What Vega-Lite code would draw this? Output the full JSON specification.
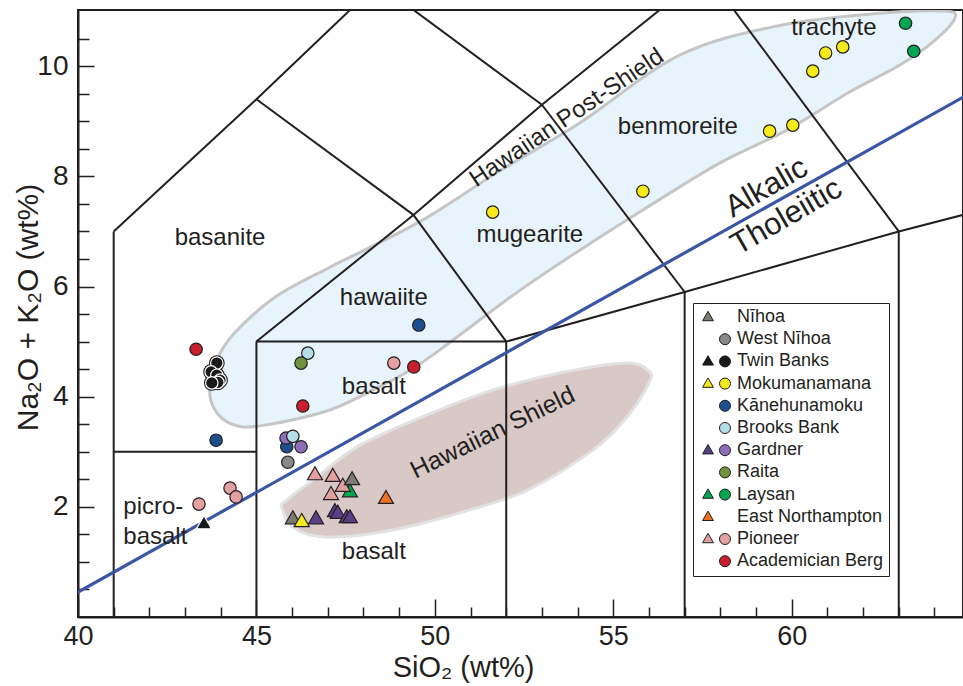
{
"$schema": "https://vega.github.io/schema/vega-lite/v6.json",
"width": 885, "height": 607,
"autosize": {"type": "none"},
"padding": {"left": 78, "top": 10, "right": 0, "bottom": 69},
"background": "white",
"config": {"view": {"stroke": "#231f20", "strokeWidth": 2}, "font": "Liberation Sans"},
"datasets": {
"postShield": [
{"i":1,"x":43.70,"y":4.21},{"i":2,"x":44.00,"y":4.81},{"i":3,"x":44.54,"y":5.26},{"i":4,"x":45.60,"y":5.84},{"i":5,"x":47.06,"y":6.35},{"i":6,"x":48.21,"y":6.72},{"i":7,"x":49.80,"y":7.26},{"i":8,"x":51.82,"y":8.10},{"i":9,"x":54.06,"y":8.97},{"i":10,"x":56.86,"y":10.20},{"i":11,"x":59.66,"y":10.74},{"i":12,"x":62.46,"y":10.96},{"i":13,"x":64.29,"y":11.00},{"i":14,"x":64.57,"y":10.87},{"i":15,"x":64.01,"y":10.47},{"i":16,"x":63.03,"y":10.02},{"i":17,"x":61.62,"y":9.53},{"i":18,"x":59.86,"y":8.84},{"i":19,"x":57.98,"y":8.24},{"i":20,"x":55.83,"y":7.39},{"i":21,"x":54.06,"y":6.66},{"i":22,"x":52.38,"y":5.93},{"i":23,"x":50.14,"y":4.85},{"i":24,"x":49.30,"y":4.48},{"i":25,"x":48.38,"y":4.16},{"i":26,"x":46.97,"y":3.74},{"i":27,"x":45.10,"y":3.47},{"i":28,"x":44.31,"y":3.50},{"i":29,"x":43.81,"y":3.79}
],
"shield": [
{"i":1,"x":45.71,"y":2.00},{"i":2,"x":45.85,"y":2.12},{"i":3,"x":46.22,"y":2.31},{"i":4,"x":46.69,"y":2.54},{"i":5,"x":47.90,"y":3.12},{"i":6,"x":49.78,"y":3.67},{"i":7,"x":51.62,"y":4.12},{"i":8,"x":53.50,"y":4.43},{"i":9,"x":55.38,"y":4.61},{"i":10,"x":56.02,"y":4.45},{"i":11,"x":55.97,"y":4.21},{"i":12,"x":55.38,"y":3.63},{"i":13,"x":54.43,"y":3.03},{"i":14,"x":52.58,"y":2.30},{"i":15,"x":50.70,"y":1.89},{"i":16,"x":48.82,"y":1.58},{"i":17,"x":46.97,"y":1.45},{"i":18,"x":46.02,"y":1.63}
],
"bounds": [
{"x":41,"y":0,"x2":41,"y2":7},{"x":41,"y":7,"x2":45,"y2":9.4},{"x":45,"y":9.4,"x2":48.4,"y2":11.5},{"x":45,"y":9.4,"x2":49.4,"y2":7.3},{"x":49.4,"y":7.3,"x2":52,"y2":5},{"x":45,"y":5,"x2":49.4,"y2":7.3},{"x":49.4,"y":7.3,"x2":53,"y2":9.3},{"x":53,"y":9.3,"x2":57.6,"y2":11.7},{"x":48.4,"y":11.5,"x2":53,"y2":9.3},{"x":53,"y":9.3,"x2":57,"y2":5.9},{"x":57.6,"y":11.7,"x2":63,"y2":7},{"x":41,"y":3,"x2":45,"y2":3},{"x":45,"y":0,"x2":45,"y2":5},{"x":45,"y":5,"x2":52,"y2":5},{"x":52,"y":0,"x2":52,"y2":5},{"x":52,"y":5,"x2":57,"y2":5.9},{"x":57,"y":0,"x2":57,"y2":5.9},{"x":57,"y":5.9,"x2":63,"y2":7},{"x":63,"y":0,"x2":63,"y2":7},{"x":63,"y":7,"x2":69,"y2":8}
],
"divider": [{"x":39.5,"y":0.27,"x2":65.5,"y2":9.69}],
"fieldLabels": [
{"x":61.18,"y":10.69,"label":"trachyte"},{"x":56.81,"y":8.89,"label":"benmoreite"},{"x":52.66,"y":6.93,"label":"mugearite"},{"x":43.98,"y":6.88,"label":"basanite"},{"x":48.57,"y":5.79,"label":"hawaiite"},{"x":48.29,"y":4.17,"label":"basalt"},{"x":48.29,"y":1.18,"label":"basalt"}
],
"picro": [{"x":41.27,"y":2.0,"label":"picro-\nbasalt"}],
"postLabel": [{"x":53.70,"y":9.06,"label":"Hawaiian Post-Shield"}],
"shieldLabel": [{"x":51.62,"y":3.35,"label":"Hawaiian Shield"}],
"seriesLabels": [{"x":59.30,"y":7.79,"label":"Alkalic"},{"x":59.86,"y":7.26,"label":"Tholeiitic"}],
"points": [
{"series":"Laysan","marker":"triangle","x":47.62,"y":2.30},
{"series":"Pioneer","marker":"triangle","x":46.64,"y":2.61},
{"series":"Pioneer","marker":"triangle","x":47.14,"y":2.58},
{"series":"Pioneer","marker":"triangle","x":47.42,"y":2.40},
{"series":"Pioneer","marker":"triangle","x":47.09,"y":2.25},
{"series":"Nīhoa","marker":"triangle","x":47.68,"y":2.52},
{"series":"Nīhoa","marker":"triangle","x":46.02,"y":1.81},
{"series":"Mokumanamana","marker":"triangle","x":46.27,"y":1.76},
{"series":"East Northampton","marker":"triangle","x":48.63,"y":2.18},
{"series":"Gardner","marker":"triangle","x":46.67,"y":1.81},
{"series":"Gardner","marker":"triangle","x":47.20,"y":1.94},
{"series":"Gardner","marker":"triangle","x":47.28,"y":1.91},
{"series":"Gardner","marker":"triangle","x":47.53,"y":1.83},
{"series":"Gardner","marker":"triangle","x":47.62,"y":1.83},
{"series":"Twin Banks","marker":"triangle","x":43.53,"y":1.72},
{"series":"Kānehunamoku","marker":"circle","x":49.55,"y":5.30},
{"series":"Kānehunamoku","marker":"circle","x":43.87,"y":3.21},
{"series":"Kānehunamoku","marker":"circle","x":45.85,"y":3.09},
{"series":"Gardner","marker":"circle","x":45.83,"y":3.25},
{"series":"Gardner","marker":"circle","x":46.25,"y":3.09},
{"series":"Brooks Bank","marker":"circle","x":46.44,"y":4.79},
{"series":"Brooks Bank","marker":"circle","x":46.02,"y":3.28},
{"series":"Raita","marker":"circle","x":46.25,"y":4.61},
{"series":"West Nīhoa","marker":"circle","x":45.88,"y":2.81},
{"series":"Pioneer","marker":"circle","x":48.85,"y":4.61},
{"series":"Pioneer","marker":"circle","x":43.39,"y":2.05},
{"series":"Pioneer","marker":"circle","x":44.26,"y":2.34},
{"series":"Pioneer","marker":"circle","x":44.43,"y":2.18},
{"series":"Academician Berg","marker":"circle","x":43.31,"y":4.86},
{"series":"Academician Berg","marker":"circle","x":46.30,"y":3.83},
{"series":"Academician Berg","marker":"circle","x":49.41,"y":4.54},
{"series":"Twin Banks","marker":"circle","x":43.89,"y":4.61},
{"series":"Twin Banks","marker":"circle","x":43.73,"y":4.45},
{"series":"Twin Banks","marker":"circle","x":43.89,"y":4.39},
{"series":"Twin Banks","marker":"circle","x":43.98,"y":4.30},
{"series":"Twin Banks","marker":"circle","x":43.92,"y":4.26},
{"series":"Twin Banks","marker":"circle","x":43.75,"y":4.25},
{"series":"Mokumanamana","marker":"circle","x":51.62,"y":7.35},
{"series":"Mokumanamana","marker":"circle","x":55.83,"y":7.73},
{"series":"Mokumanamana","marker":"circle","x":59.38,"y":8.82},
{"series":"Mokumanamana","marker":"circle","x":60.03,"y":8.93},
{"series":"Mokumanamana","marker":"circle","x":60.59,"y":9.91},
{"series":"Mokumanamana","marker":"circle","x":60.95,"y":10.24},
{"series":"Mokumanamana","marker":"circle","x":61.43,"y":10.35},
{"series":"Laysan","marker":"circle","x":63.19,"y":10.78},
{"series":"Laysan","marker":"circle","x":63.42,"y":10.27}
]
},
"encoding": {
"x": {"field": "x", "type": "quantitative",
  "scale": {"domain": [40, 64.8], "nice": false, "zero": false},
  "axis": {"values": [40,41,42,43,44,45,46,47,48,49,50,51,52,53,54,55,56,57,58,59,60,61,62,63,64],
    "title": "SiO₂ (wt%)", "grid": false,
    "labelExpr": "datum.value % 5 === 0 ? format(datum.value, 'd') : ''",
    "tickSize": {"condition": {"test": "datum.value % 5 === 0", "value": -18}, "value": -10},
    "labelPadding": 24, "labelFlush": false, "labelOverlap": false, "labelBound": false,
    "domainColor": "#231f20", "domainWidth": 2, "tickColor": "#231f20", "tickWidth": 1.5,
    "labelFont": "Liberation Sans", "labelFontSize": 27, "labelColor": "#231f20",
    "titleFont": "Liberation Sans", "titleFontSize": 29, "titleFontWeight": "normal", "titleColor": "#231f20",
    "titleX": 385, "titleY": 50, "titleBaseline": "middle", "titleAlign": "center"}},
"y": {"field": "y", "type": "quantitative",
  "scale": {"domain": [0, 11.02], "nice": false, "zero": false},
  "axis": {"values": [0.5,1,1.5,2,2.5,3,3.5,4,4.5,5,5.5,6,6.5,7,7.5,8,8.5,9,9.5,10,10.5],
    "title": "Na₂O + K₂O (wt%)", "grid": false,
    "labelExpr": "datum.value % 2 === 0 ? format(datum.value, 'd') : ''",
    "tickSize": {"condition": {"test": "datum.value % 2 === 0", "value": -16}, "value": -11},
    "labelPadding": 26, "labelFlush": false, "labelOverlap": false, "labelBound": false,
    "domainColor": "#231f20", "domainWidth": 2, "tickColor": "#231f20", "tickWidth": 1.5,
    "labelFont": "Liberation Sans", "labelFontSize": 28, "labelColor": "#231f20",
    "titleFont": "Liberation Sans", "titleFontSize": 30, "titleFontWeight": "normal", "titleColor": "#231f20",
    "titleX": -50, "titleY": 297, "titleAngle": -90, "titleBaseline": "middle", "titleAlign": "center"}}
},
"layer": [
{"data": {"name": "postShield"}, "mark": {"type": "line", "fill": "#e8f4fb", "stroke": "#c6c6c6", "strokeWidth": 3, "interpolate": "cardinal-closed", "clip": true}, "encoding": {"order": {"field": "i", "type": "quantitative"}}},
{"data": {"name": "shield"}, "mark": {"type": "line", "fill": "#d8c9c7", "stroke": "#e2e2e2", "strokeWidth": 3, "interpolate": "cardinal-closed", "clip": true}, "encoding": {"order": {"field": "i", "type": "quantitative"}}},
{"data": {"name": "bounds"}, "mark": {"type": "rule", "stroke": "#231f20", "strokeWidth": 2, "clip": true}, "encoding": {"x2": {"field": "x2"}, "y2": {"field": "y2"}}},
{"data": {"name": "divider"}, "mark": {"type": "rule", "stroke": "#3c56a6", "strokeWidth": 3.2, "clip": true}, "encoding": {"x2": {"field": "x2"}, "y2": {"field": "y2"}}},
{"data": {"name": "fieldLabels"}, "mark": {"type": "text", "fontSize": 24, "color": "#231f20", "font": "Liberation Sans", "baseline": "middle"}, "encoding": {"text": {"field": "label"}}},
{"data": {"name": "picro"}, "mark": {"type": "text", "fontSize": 24, "color": "#231f20", "font": "Liberation Sans", "align": "left", "baseline": "middle", "lineBreak": "\n", "lineHeight": 30}, "encoding": {"text": {"field": "label"}}},
{"data": {"name": "postLabel"}, "mark": {"type": "text", "fontSize": 24, "color": "#231f20", "font": "Liberation Sans", "baseline": "middle", "angle": 326}, "encoding": {"text": {"field": "label"}}},
{"data": {"name": "shieldLabel"}, "mark": {"type": "text", "fontSize": 25, "color": "#231f20", "font": "Liberation Sans", "baseline": "middle", "angle": 334}, "encoding": {"text": {"field": "label"}}},
{"data": {"name": "seriesLabels"}, "mark": {"type": "text", "fontSize": 31, "color": "#231f20", "font": "Liberation Sans", "baseline": "middle", "angle": 330}, "encoding": {"text": {"field": "label"}}},
{"data": {"name": "points"}, "transform": [{"filter": "datum.series === 'Twin Banks' && datum.marker === 'circle'"}], "mark": {"type": "point", "shape": "circle", "filled": true, "size": 250, "color": "#231f20", "opacity": 1}},
{"data": {"name": "points"}, "transform": [{"filter": "datum.marker === 'triangle'"}],
 "mark": {"type": "point", "shape": "triangle-up", "filled": true, "size": 225, "strokeWidth": 1.2, "opacity": 1},
 "encoding": {"color": {"field": "series", "type": "nominal",
   "scale": {"domain": ["Nīhoa","West Nīhoa","Twin Banks","Mokumanamana","Kānehunamoku","Brooks Bank","Gardner","Raita","Laysan","East Northampton","Pioneer","Academician Berg"],
             "range": ["#7a7a72","#888888","#1a1a1a","#f6ea1a","#1d4f8f","#b5dfe8","#5a3f88","#6f9440","#00a651","#ec7222","#e3a0a0","#c8202e"]},
   "legend": {"title": null, "orient": "none", "legendX": 615, "legendY": 293, "padding": 5, "strokeColor": "#231f20", "symbolType": "M-2.83,-0.95L-1.93,0.62L-3.73,0.62Z", "symbolSize": 144, "symbolOffset": 18, "labelOffset": 3, "labelFontSize": 18, "labelFont": "Liberation Sans", "labelColor": "#231f20", "rowPadding": 4.2, "symbolStrokeColor": "#231f20", "symbolStrokeWidth": 1, "symbolOpacity": 1, "labelLimit": 300, "offset": 0,
     "encode": {"symbols": {"update": {"opacity": {"signal": "indexof(['West Nīhoa','Kānehunamoku','Brooks Bank','Raita','Academician Berg'], datum.value) < 0 ? 1 : 0"}, "stroke": {"value": "#231f20"}, "strokeWidth": {"value": 1}}}}}},
   "stroke": {"condition": {"test": "datum.series === 'Twin Banks'", "value": "#ffffff"}, "value": "#231f20"}}},
{"data": {"name": "points"}, "transform": [{"filter": "datum.marker === 'circle'"}],
 "mark": {"type": "point", "shape": "circle", "filled": true, "size": 154, "strokeWidth": 1.2, "opacity": 1},
 "encoding": {"color": {"field": "series", "type": "nominal",
   "scale": {"domain": ["Nīhoa","West Nīhoa","Twin Banks","Mokumanamana","Kānehunamoku","Brooks Bank","Gardner","Raita","Laysan","East Northampton","Pioneer","Academician Berg"],
             "range": ["#7a7a72","#888888","#1a1a1a","#f6ea1a","#1d4f8f","#b5dfe8","#8d6fb8","#6f9440","#00a651","#ec7222","#e3a0a0","#c8202e"]},
   "legend": {"title": null, "orient": "none", "legendX": 615, "legendY": 293, "padding": 5, "strokeColor": "transparent", "symbolType": "M0.92,0A0.92,0.92,0,1,1,-0.92,0A0.92,0.92,0,1,1,0.92,0Z", "symbolSize": 144, "symbolOffset": 18, "labelOffset": 3, "labelFontSize": 18, "labelFont": "Liberation Sans", "labelColor": "#231f20", "labelOpacity": 0, "rowPadding": 4.2, "symbolStrokeColor": "#231f20", "symbolStrokeWidth": 1, "symbolOpacity": 1, "labelLimit": 300, "offset": 0,
     "encode": {"symbols": {"update": {"opacity": {"signal": "indexof(['Nīhoa','East Northampton'], datum.value) < 0 ? 1 : 0"}, "stroke": {"value": "#231f20"}, "strokeWidth": {"value": 1}}}}}},
   "stroke": {"condition": {"test": "datum.series === 'Twin Banks'", "value": "#ffffff"}, "value": "#231f20"}}}
],
"resolve": {"scale": {"color": "independent"}}
}
